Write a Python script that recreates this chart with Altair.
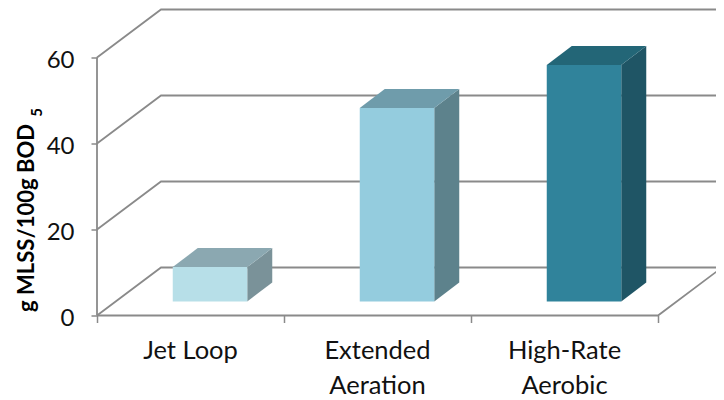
import altair as alt
import pandas as pd

categories = ["Jet Loop", "Extended\nAeration", "High-Rate\nAerobic"]
values = [8, 45, 55]
front_colors = ["#b7dfe8", "#94ccde", "#30839b"]
top_colors = ["#8ba8b1", "#6f9cab", "#236677"]
side_colors = ["#7a9299", "#5d828c", "#1f5565"]
y_ticks = [0, 20, 40, 60]
x_ticks = [0, 1, 2, 3]
axis_title = "g MLSS/100g BOD"
axis_title_sub = "5"

# Oblique depth in axis units
WALL_DX, WALL_DY = 64 / 187, 48 / 4.3
BAR_W, BAR_DX, BAR_DY = 74.5 / 187, 25 / 187, 19 / 4.3
FLOOR_DX, FLOOR_DY = 19.5 / 187, 14 / 4.3
GRID = "#8a8a8a"

grid_rows = []
for level in y_ticks:
    grid_rows += [
        {"line": f"g{level}", "o": 0, "x": 0, "y": level},
        {"line": f"g{level}", "o": 1, "x": WALL_DX, "y": level + WALL_DY},
        {"line": f"g{level}", "o": 2, "x": 3 + WALL_DX, "y": level + WALL_DY},
    ]
frame_rows = [
    {"line": "axisY", "o": 0, "x": 0, "y": y_ticks[0]},
    {"line": "axisY", "o": 1, "x": 0, "y": y_ticks[-1]},
    {"line": "axisX", "o": 0, "x": 0, "y": 0},
    {"line": "axisX", "o": 1, "x": 3, "y": 0},
    {"line": "axisX", "o": 2, "x": 3 + WALL_DX, "y": WALL_DY},
]
grid_df = pd.DataFrame(grid_rows + frame_rows)

front_rows, top_rows, side_rows = [], [], []
domain, colors = [], []
for i, (c, v) in enumerate(zip(categories, values)):
    x0 = i + 0.5 + FLOOR_DX - BAR_W / 2
    x1 = x0 + BAR_W
    y0 = FLOOR_DY
    y1 = v + FLOOR_DY
    for face, col in (("f", front_colors[i]), ("t", top_colors[i]), ("s", side_colors[i])):
        domain.append(f"{face}{i}")
        colors.append(col)
    front_rows.append({"key": f"f{i}", "x": x0, "x2": x1, "y": y0, "y2": y1})
    top_rows += [
        {"key": f"t{i}", "y": y1, "x": x0, "x2": x1},
        {"key": f"t{i}", "y": y1 + BAR_DY, "x": x0 + BAR_DX, "x2": x1 + BAR_DX},
    ]
    side_rows += [
        {"key": f"s{i}", "x": x1, "y": y0, "y2": y1},
        {"key": f"s{i}", "x": x1 + BAR_DX, "y": y0 + BAR_DY, "y2": y1 + BAR_DY},
    ]

PLOT_W = 619
xs = alt.Scale(domain=[0, PLOT_W / 187], nice=False, zero=False)
ys = alt.Scale(domain=[0, 306 / 4.3], nice=False, zero=False)
cs = alt.Scale(domain=domain, range=colors)
X = alt.X("x:Q", scale=xs, title=None,
          axis=alt.Axis(values=x_ticks, labels=False, domain=False, grid=False,
                        tickSize=7, tickColor=GRID, tickWidth=1.5))
Y = alt.Y("y:Q", scale=ys,
          axis=alt.Axis(values=y_ticks, domain=False, grid=False, tickSize=6,
                        tickColor=GRID, tickWidth=1.5, labelFontSize=24,
                        labelFont="Lato", labelColor="#111111", labelPadding=17,
                        labelOffset=3,
                        title=axis_title, titleFont="Lato", titleFontSize=22,
                        titleFontWeight="bold", titleColor="#000000",
                        titleX=-59, titleY=208))

lines = alt.Chart(grid_df).mark_line(color=GRID, strokeWidth=1.8, clip=False).encode(
    x=X, y=Y, detail="line:N", order="o:Q")
front = alt.Chart(pd.DataFrame(front_rows)).mark_rect().encode(
    x=alt.X("x:Q", scale=xs), x2="x2:Q", y=alt.Y("y:Q", scale=ys), y2="y2:Q",
    color=alt.Color("key:N", scale=cs, legend=None))
top = alt.Chart(pd.DataFrame(top_rows)).mark_area(orient="horizontal").encode(
    x=alt.X("x:Q", scale=xs, stack=None), x2="x2:Q", y=alt.Y("y:Q", scale=ys),
    color=alt.Color("key:N", scale=cs, legend=None))
side = alt.Chart(pd.DataFrame(side_rows)).mark_area(orient="vertical").encode(
    x=alt.X("x:Q", scale=xs), y=alt.Y("y:Q", scale=ys, stack=None), y2="y2:Q",
    color=alt.Color("key:N", scale=cs, legend=None))
labels = alt.Chart(pd.DataFrame({"name": categories, "x": [i + 0.5 for i in range(3)]})).transform_calculate(
    text="split(datum.name, '\\n')"
).mark_text(font="Lato", fontSize=25.5, color="#111111", baseline="top", lineHeight=35, clip=False).encode(
    x=alt.X("x:Q", scale=xs), y=alt.value(329), text="text:N")
sub = alt.Chart(pd.DataFrame({"t": [axis_title_sub]})).mark_text(
    font="Lato", fontSize=15, fontWeight="bold", color="#000000", angle=270, clip=False
).encode(x=alt.value(-60), y=alt.value(103), text="t:N")

chart = alt.layer(lines, side, top, front, labels, sub).properties(
    width=PLOT_W, height=306,
    autosize=alt.AutoSizeParams(type="none"),
    padding={"left": 89, "top": 1.5, "right": 0, "bottom": 84},
    background="white",
).configure_view(stroke=None)

chart.save("out.html", embed_options={"renderer": "svg", "actions": False})
